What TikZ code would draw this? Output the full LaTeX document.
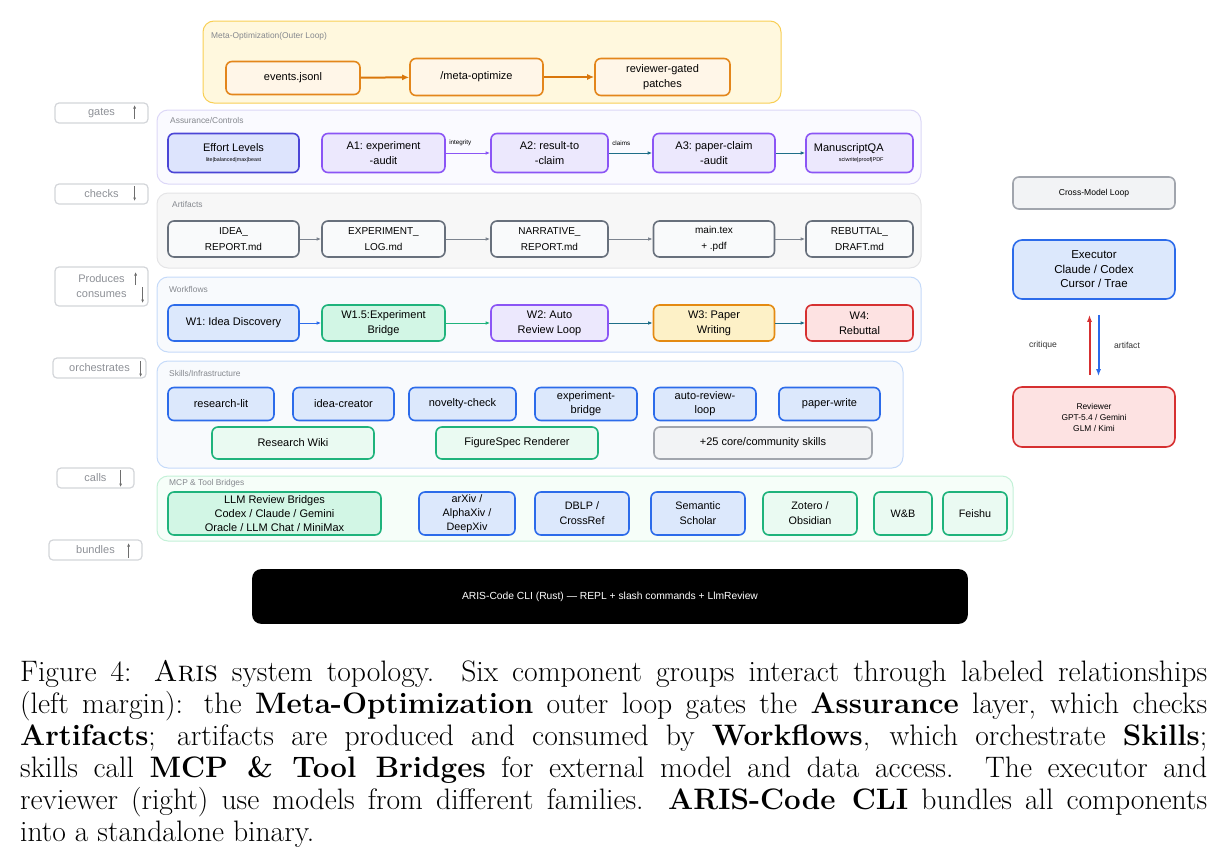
\documentclass[tikz,border=0pt]{standalone}
\usepackage{fontspec}
\setsansfont{Liberation Sans}
\usetikzlibrary{arrows.meta,calc}

\definecolor{metafill}{HTML}{FFF8DE}
\definecolor{metaline}{HTML}{F8CF55}
\definecolor{orline}{HTML}{E3861B}
\definecolor{orfill}{HTML}{FFF6E8}
\definecolor{orarrow}{HTML}{D9770B}
\definecolor{assurfill}{HTML}{FAFAFF}
\definecolor{assurline}{HTML}{DCD7F7}
\definecolor{effortfill}{HTML}{DDE4FD}
\definecolor{effortline}{HTML}{4B45D6}
\definecolor{auditfill}{HTML}{ECE8FD}
\definecolor{auditline}{HTML}{8B55F5}
\definecolor{tealarr}{HTML}{1E6E88}
\definecolor{artiffill}{HTML}{F7F7F7}
\definecolor{artifline}{HTML}{E4E4E6}
\definecolor{filefill}{HTML}{F9FAFB}
\definecolor{fileline}{HTML}{68707C}
\definecolor{filearr}{HTML}{7C838E}
\definecolor{flowfill}{HTML}{F8FAFD}
\definecolor{flowline}{HTML}{C5DAF9}
\definecolor{bluefill}{HTML}{DCE8FC}
\definecolor{blueline}{HTML}{2C6BEA}
\definecolor{greenfill}{HTML}{D2F6E5}
\definecolor{greenline}{HTML}{1FB37C}
\definecolor{mintfill}{HTML}{EAFAF2}
\definecolor{amberfill}{HTML}{FDF1C7}
\definecolor{amberline}{HTML}{E48A12}
\definecolor{redfill}{HTML}{FDE2E2}
\definecolor{redline}{HTML}{D63031}
\definecolor{grayfill}{HTML}{F2F3F5}
\definecolor{grayline}{HTML}{A1A5AD}
\definecolor{mcpfill}{HTML}{F6FEF9}
\definecolor{mcpline}{HTML}{C3F1D7}
\definecolor{tagline}{HTML}{D3D5D9}
\definecolor{tagtext}{HTML}{8D9096}
\definecolor{titlegray}{HTML}{85888E}
\definecolor{tagarrow}{HTML}{6E6E6E}

\newlength{\du}
\setlength{\du}{1pt}

\tikzset{
  sz/.style 2 args={minimum width=#1\du, minimum height=#2\du},
  sf/.style 2 args={font=\sffamily\frenchspacing\fontsize{#1}{#2}\selectfont},
  grp/.style={draw, rounded corners=11\du, line width=1\du, inner sep=0pt},
  grptitle/.style={anchor=west, inner sep=0pt, text=titlegray, sf={8.4}{10}},
  box/.style={draw, rounded corners=6\du, line width=1.6\du, inner sep=0pt,
    align=center, sf={11}{15}},
  filebox/.style={box, fill=filefill, draw=fileline, sf={10}{16}},
  skillbox/.style={box, fill=bluefill, draw=blueline},
  infrabox/.style={box, fill=mintfill, draw=greenline},
  tag/.style={draw=tagline, line width=1.2\du, rounded corners=4\du, inner sep=0pt,
    align=center, text=tagtext, sf={11}{15}},
  tagarr/.style={draw=tagarrow, line width=0.8\du, -{Latex[length=3.5pt,width=3pt]}},
  flowarr/.style={line width=1\du, -{Latex[length=4.5pt,width=3.5pt]}},
  metaarr/.style={draw=orarrow, line width=2\du, -{Latex[length=7pt,width=6pt]}},
  looparr/.style={line width=2\du, -{Latex[length=7pt,width=5pt]}},
  edgelbl/.style={pos=0, anchor=south west, inner xsep=3\du, inner ysep=7\du,
    text=black, sf={6.3}{7}},
  note/.style={inner sep=0pt, text=black!80, sf={8.6}{11}},
  capt/.style={anchor=north west, inner sep=0pt, text width=1187\du, align=justify,
    font=\rmfamily\fontsize{29.6}{32}\selectfont}
}

\begin{document}
\begin{tikzpicture}
\pgftransformxscale{1.000000}
\pgftransformyscale{-1.000000}
\useasboundingbox (0\du,0\du) rectangle (1227\du,865\du);

% groups
\node[grp, fill=metafill, draw=metaline, sz={578}{82}] (meta) at (492\du,62\du) {};
\node[grp, fill=assurfill, draw=assurline, sz={764}{74}] (assur) at (539\du,147\du) {};
\node[grp, fill=artiffill, draw=artifline, sz={764}{75}] (artif) at (539\du,230.5\du) {};
\node[grp, fill=flowfill, draw=flowline, sz={764}{75}] (wflow) at (539\du,314.5\du) {};
\node[grp, fill=flowfill, draw=flowline, sz={746}{107}] (skills) at (530\du,414.5\du) {};
\node[grp, fill=mcpfill, draw=mcpline, sz={856}{65}] (mcp) at (585\du,508.5\du) {};

\node[grptitle] (metatitle) at (211\du,36\du) {Meta-Optimization(Outer Loop)};
\node[grptitle] (assurtitle) at (170\du,120\du) {Assurance/Controls};
\node[grptitle] (artiftitle) at (172\du,204\du) {Artifacts};
\node[grptitle] (wflowtitle) at (169\du,289\du) {Workflows};
\node[grptitle] (skillstitle) at (169\du,373\du) {Skills/Infrastructure};
\node[grptitle] (mcptitle) at (169\du,483\du) {MCP \& Tool Bridges};

% outer loop
\node[box, fill=orfill, draw=orline, sz={134}{33}] (events) at (293\du,78\du) {events.jsonl};
\node[box, fill=orfill, draw=orline, sz={133}{37}] (metaopt) at (476.5\du,77\du) {/meta-optimize};
\node[box, fill=orfill, draw=orline, sz={135}{37}] (patches) at (662.5\du,77\du) {reviewer-gated\\patches};
\draw[metaarr] (events) -- (metaopt);
\draw[metaarr] (metaopt) -- (patches);

% assurance
\node[box, fill=effortfill, draw=effortline, sz={131}{39}] (effort) at (233.5\du,153\du)
  {Effort Levels\\[-5\du]{\fontsize{5.3}{6}\selectfont lite|balanced|max|beast}};
\node[box, fill=auditfill, draw=auditline, sz={123}{39}] (auditA) at (383.5\du,153\du) {A1: experiment\\-audit};
\node[box, fill=auditfill, draw=auditline, sz={117}{39}] (auditB) at (549.5\du,153\du) {A2: result-to\\-claim};
\node[box, fill=auditfill, draw=auditline, sz={122}{39}] (auditC) at (714\du,153\du) {A3: paper-claim\\-audit};
\node[box, fill=auditfill, draw=auditline, sz={107}{39}] (mqa) at (859.5\du,153\du) {};
\node[inner sep=0pt, anchor=east, align=right, sf={11}{15}] (mqatext)
  at ($(mqa.east)+(-30\du,0\du)$) {ManuscriptQA\\[-5\du]{\fontsize{5.5}{6}\selectfont sciwrite|proof|PDF}};
\draw[flowarr, draw=auditline] (auditA) -- node[edgelbl] {integrity} (auditB);
\draw[flowarr, draw=tealarr] (auditB) -- node[edgelbl] {claims} (auditC);
\draw[flowarr, draw=tealarr] (auditC) -- (mqa);

% artifacts
\node[filebox, sz={131}{36}] (idea) at (233.5\du,239\du) {IDEA\_\\REPORT.md};
\node[filebox, sz={123}{36}] (explog) at (383.5\du,239\du) {EXPERIMENT\_\\LOG.md};
\node[filebox, sz={117}{36}] (narr) at (549.5\du,239\du) {NARRATIVE\_\\REPORT.md};
\node[filebox, sz={121}{36}] (maintex) at (714\du,239\du) {main.tex\\+ .pdf};
\node[filebox, sz={107}{36}] (rebut) at (859.5\du,239\du) {REBUTTAL\_\\DRAFT.md};
\draw[flowarr, draw=filearr] (idea) -- (explog);
\draw[flowarr, draw=filearr] (explog) -- (narr);
\draw[flowarr, draw=filearr] (narr) -- (maintex);
\draw[flowarr, draw=filearr] (maintex) -- (rebut);

% workflows
\node[box, fill=bluefill, draw=blueline, sz={131}{36}] (wone) at (233.5\du,323\du) {W1: Idea Discovery};
\node[box, fill=greenfill, draw=greenline, sz={123}{36}] (wbridge) at (383.5\du,323\du) {W1.5:Experiment\\Bridge};
\node[box, fill=auditfill, draw=auditline, sz={117}{36}] (wtwo) at (549.5\du,323\du) {W2: Auto\\Review Loop};
\node[box, fill=amberfill, draw=amberline, sz={121}{36}] (wthree) at (714\du,323\du) {W3: Paper\\Writing};
\node[box, fill=redfill, draw=redline, sz={107}{36}] (wfour) at (859.5\du,323\du) {W4:\\Rebuttal};
\draw[flowarr, draw=blueline] (wone) -- (wbridge);
\draw[flowarr, draw=greenline] (wbridge) -- (wtwo);
\draw[flowarr, draw=tealarr] (wtwo) -- (wthree);
\draw[flowarr, draw=tealarr] (wthree) -- (wfour);

% skills
\node[skillbox, sz={106}{33}] (rlit) at (221\du,404\du) {research-lit};
\node[skillbox, sz={101}{33}] (icreate) at (343.5\du,404\du) {idea-creator};
\node[skillbox, sz={107}{33}] (novelty) at (462.5\du,404\du) {novelty-check};
\node[skillbox, sz={102}{33}, sf={11}{14}] (expbridge) at (586\du,404\du) {experiment-\\bridge};
\node[skillbox, sz={102}{33}, sf={11}{14}] (autorev) at (705\du,404\du) {auto-review-\\loop};
\node[skillbox, sz={101}{33}] (pwrite) at (829.5\du,404\du) {paper-write};
\node[infrabox, sz={162}{32}] (wiki) at (293\du,443\du) {Research Wiki};
\node[infrabox, sz={162}{32}] (figspec) at (517\du,443\du) {FigureSpec Renderer};
\node[box, fill=grayfill, draw=grayline, sz={218}{32}] (more) at (763\du,443\du) {+25 core/community skills};

% tool bridges
\node[box, fill=greenfill, draw=greenline, sz={213}{43}, sf={11}{14}] (llmrev) at (274.5\du,513.5\du)
  {LLM Review Bridges\\Codex / Claude / Gemini\\Oracle / LLM Chat / MiniMax};
\node[skillbox, sz={96}{43}, sf={10.8}{14}] (arxiv) at (467\du,513.5\du) {arXiv /\\AlphaXiv /\\DeepXiv};
\node[skillbox, sz={94}{43}, sf={10.8}{15}] (dblp) at (582\du,513.5\du) {DBLP /\\CrossRef};
\node[skillbox, sz={94}{43}, sf={10.8}{15}] (sems) at (698\du,513.5\du) {Semantic\\Scholar};
\node[infrabox, sz={94}{43}, sf={10.8}{15}] (zotero) at (810\du,513.5\du) {Zotero /\\Obsidian};
\node[infrabox, sz={58}{43}, sf={10.8}{15}] (wandb) at (903\du,513.5\du) {W\&B};
\node[infrabox, sz={64}{43}, sf={10.8}{15}] (feishu) at (975\du,513.5\du) {Feishu};

% cli
\node[box, fill=black, draw=black, text=white, rounded corners=8\du, sz={714}{53},
  sf={10.3}{12}] (cli) at (610\du,596.5\du)
  {ARIS-Code CLI (Rust) — REPL + slash commands + LlmReview};

% left margin relations
\node[tag, sz={93}{20}] (gates) at (101.5\du,113\du) {gates};
\node[tag, sz={93}{20}] (checks) at (101.5\du,194\du) {checks};
\node[tag, sz={93}{39}] (prodcons) at (101.5\du,286.5\du) {Produces\\consumes};
\node[tag, sz={93}{20}] (orch) at (99.5\du,368\du) {orchestrates};
\node[tag, sz={77}{20}] (calls) at (95.5\du,478\du) {calls};
\node[tag, sz={93}{20}] (bundles) at (95.5\du,550\du) {bundles};
\draw[tagarr] ($(gates.east)+(-14\du,6\du)$) -- ($(gates.east)+(-14\du,-8\du)$);
\draw[tagarr] ($(checks.east)+(-14\du,-8\du)$) -- ($(checks.east)+(-14\du,7\du)$);
\draw[tagarr] ($(prodcons.east)+(-13\du,-1.5\du)$) -- ($(prodcons.east)+(-13\du,-14.5\du)$);
\draw[tagarr] ($(prodcons.east)+(-6\du,0.5\du)$) -- ($(prodcons.east)+(-6\du,16.5\du)$);
\draw[tagarr] ($(orch.east)+(-6\du,-7\du)$) -- ($(orch.east)+(-6\du,9\du)$);
\draw[tagarr] ($(calls.east)+(-14\du,-8\du)$) -- ($(calls.east)+(-14\du,9\du)$);
\draw[tagarr] ($(bundles.east)+(-14\du,8\du)$) -- ($(bundles.east)+(-14\du,-7\du)$);

% cross-model loop
\node[box, fill=grayfill, draw=grayline, sz={162}{32}, sf={8.6}{11}] (xloop) at (1094\du,193\du) {Cross-Model Loop};
\node[box, fill=bluefill, draw=blueline, rounded corners=9\du, sz={162}{59},
  sf={11.5}{14.5}] (exec) at (1094\du,269.5\du) {Executor\\Claude / Codex\\Cursor / Trae};
\node[box, fill=redfill, draw=redline, rounded corners=9\du, sz={162}{60},
  sf={8.4}{11}] (rev) at (1094\du,417\du) {Reviewer\\GPT-5.4 / Gemini\\GLM / Kimi};
\draw[looparr, draw=redline, shorten <=11\du, shorten >=15\du]
  ($(rev.north)+(-4.5\du,0\du)$) -- ($(exec.south)+(-4.5\du,0\du)$);
\draw[looparr, draw=blueline, shorten <=15\du, shorten >=10\du]
  ($(exec.south)+(4.5\du,0\du)$) -- ($(rev.north)+(4.5\du,0\du)$);
\node[note] (critique) at (1043\du,345\du) {critique};
\node[note] (artifact) at (1127\du,345\du) {artifact};

% caption
\node[capt] (cap) at (20\du,660\du) {Figure 4: \textsc{Aris} system topology. Six component groups interact through labeled relationships\linebreak
(left margin): the \textbf{Meta-Optimization} outer loop gates the \textbf{Assurance} layer, which checks\linebreak
\textbf{Artifacts}; artifacts are produced and consumed by \textbf{Workflows}, which orchestrate \textbf{Skills};\linebreak
skills call \textbf{MCP \& Tool Bridges} for external model and data access. The executor and\linebreak
reviewer (right) use models from different families. \textbf{ARIS-Code CLI} bundles all components\linebreak
into a standalone binary.};
\end{tikzpicture}
\end{document}
